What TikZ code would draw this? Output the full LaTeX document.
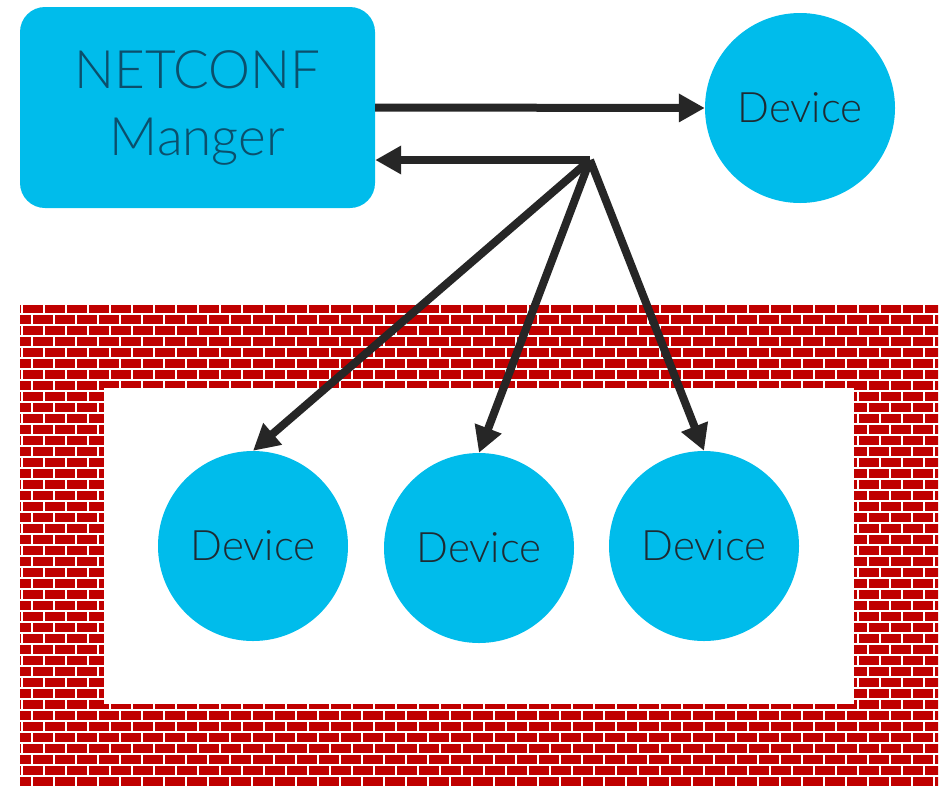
\documentclass[tikz,border=0pt]{standalone}
\usepackage{fontspec}
\setmainfont{Lato}[UprightFont=* Light]
\usetikzlibrary{arrows.meta}
\definecolor{cblue}{HTML}{00BCEB}
\definecolor{brickred}{HTML}{C00000}
\definecolor{arrowc}{HTML}{262626}
\definecolor{mgrtext}{HTML}{0B4F6C}
\definecolor{devtext}{HTML}{1E2B33}
\tikzset{
  mgrbox/.style={fill=cblue, rounded corners=25pt, minimum width=355pt, minimum height=201pt, inner sep=0pt, align=center, text=mgrtext, font=\fontsize{53}{67}\selectfont},
  devcirc/.style={circle, fill=cblue, minimum size=190pt, inner sep=0pt, text=devtext, font=\fontsize{42}{50}\selectfont},
  conn/.style={draw=arrowc, line width=8pt, -{Triangle[length=26pt,width=27pt]}},
  brick/.style={fill=brickred}
}
\begin{document}
\begin{tikzpicture}[x=1pt,y=-1pt]
\useasboundingbox (0,0) rectangle (944,785);
% wall
\begin{scope}
\clip (20,305) rectangle (938,785);
\foreach \r in {0,...,43}{
  \pgfmathsetmacro{\off}{mod(\r,2)==0 ? 1 : 11}
  \foreach \c in {0,...,43}{
    \fill[brick] ({\off+\c*22},{304.3+\r*11}) rectangle ++(19.8,8.8);
  }
}
\end{scope}
\fill[white] (104,388) rectangle (854,704);
% nodes
\node[mgrbox] (mgr) at (197.5,107.5) {NETCONF\\Manger};
\node[devcirc] (dev0) at (800,108) {Device};
\node[devcirc] (dev1) at (253,546) {Device};
\node[devcirc] (dev2) at (479,548) {Device};
\node[devcirc] (dev3) at (704,546) {Device};
\coordinate (hub) at (590,160);
% connectors
\draw[conn] (mgr.east) -- (dev0.west);
\draw[conn] (hub) -- (mgr.east |- hub);
\draw[conn] (hub) -- (dev1.north);
\draw[conn] (hub) -- (dev2.north);
\draw[conn] (hub) -- (dev3.north);
\end{tikzpicture}
\end{document}
